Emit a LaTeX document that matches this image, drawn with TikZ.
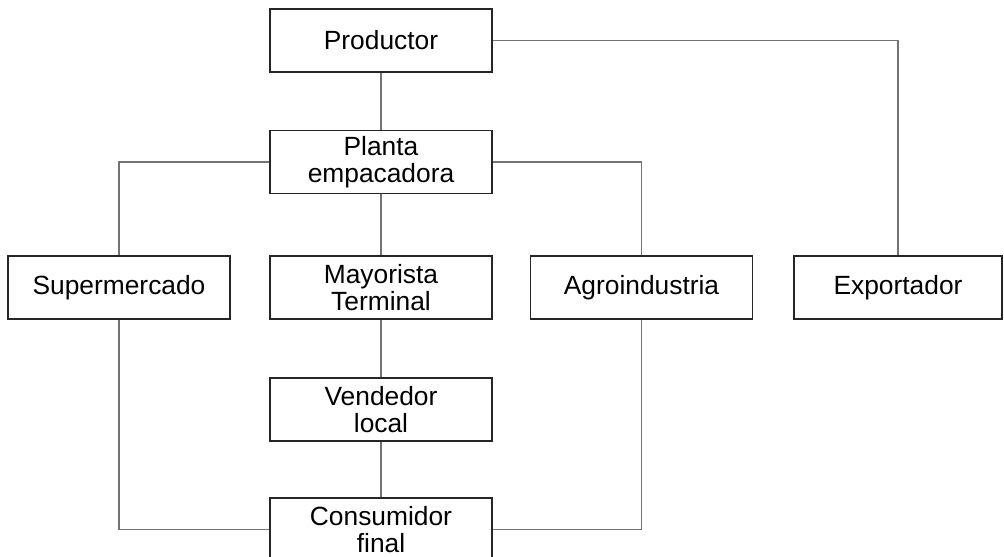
\documentclass[tikz,border=0pt]{standalone}
\usepackage{fontspec}
\setmainfont{Liberation Sans}
\usepackage{tikz}
\usetikzlibrary{positioning}

\tikzset{
  actor/.style={draw=black!85, line width=1.1pt, fill=white, align=center,
    minimum width=4.44cm, minimum height=1.26cm, inner sep=0pt,
    font=\fontsize{15}{15.5}\selectfont},
  link/.style={draw=black!55, line width=0.6pt}
}

\begin{document}
\begin{tikzpicture}[x=0.02cm, y=-0.02cm]
        \useasboundingbox (0, 0) rectangle (1004, 557);

        % canal de comercializacion
        \node [actor] (prod) at (381, 40.5) {Productor};
        \node [actor] (planta) at (381, 162) {Planta\\empacadora};
        \node [actor] (super) at (119, 287.5) {Supermercado};
        \node [actor] (mayor) at (381, 287.5) {Mayorista\\Terminal};
        \node [actor] (agro) at (641.5, 287.5) {Agroindustria};
        \node [actor, minimum width=4.16cm] (export) at (898, 287.5) {Exportador};
        \node [actor] (vend) at (381, 409.5) {Vendedor\\local};
        \node [actor] (cons) at (381, 529.5) {Consumidor\\final};

        \draw [link] (prod) -- (planta);
        \draw [link] (planta) -- (mayor);
        \draw [link] (mayor) -- (vend);
        \draw [link] (vend) -- (cons);
        \draw [link] (planta.west) -| (super.north);
        \draw [link] (planta.east) -| (agro.north);
        \draw [link] (prod.east) -| (export.north);
        \draw [link] (super.south) |- (cons.west);
        \draw [link] (agro.south) |- (cons.east);
    \end{tikzpicture}
\end{document}
